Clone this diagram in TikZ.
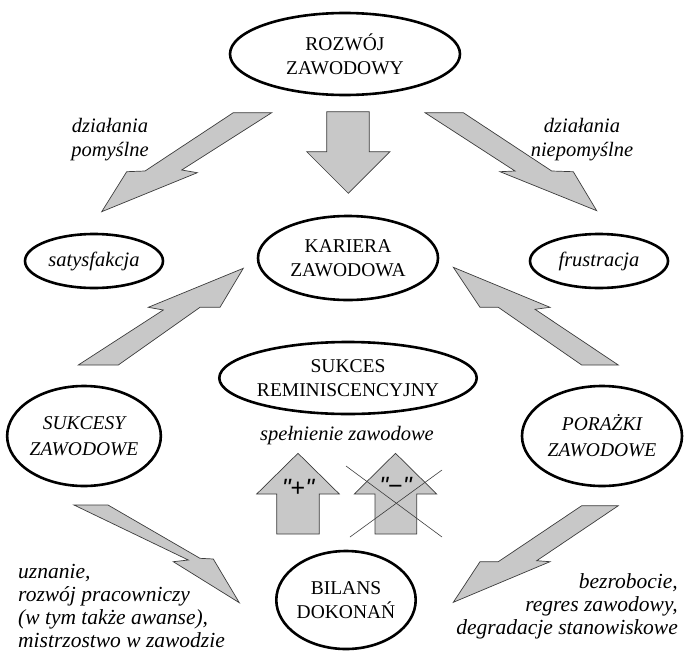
\documentclass[tikz,border=0pt]{standalone}
\usepackage{fontspec}
\setmainfont{Liberation Serif}
\newfontfamily\arialfont{Liberation Sans}
\usetikzlibrary{shapes.geometric}
\definecolor{arrowgray}{RGB}{200,200,200}
\definecolor{edgegray}{RGB}{60,60,60}
\begin{document}
\begin{tikzpicture}[x=1pt,y=-1pt,
  oval/.style={ellipse, draw, line width=2.6pt, inner sep=0pt, align=center, font=\fontsize{19.5}{24}\selectfont},
  ovalit/.style={oval, font=\fontsize{19.5}{26}\selectfont\itshape},
  ovalsm/.style={oval, font=\fontsize{20.5}{24}\selectfont\itshape},
  blockarrow/.style={fill=arrowgray, draw=edgegray, line width=0.7pt, line join=miter},
  lab/.style={font=\fontsize{20.5}{24}\selectfont\itshape, inner sep=0pt},
  labbig/.style={font=\fontsize{21.5}{23}\selectfont\itshape, inner sep=0pt},
  signtxt/.style={font=\arialfont\fontsize{25}{25}\selectfont, inner sep=0pt},
  crossline/.style={draw=edgegray, line width=0.6pt}]
\useasboundingbox (0,0) rectangle (685,653);
% ellipses
\node[oval, minimum width=230pt, minimum height=82pt] (rozwoj) at (345,54) {ROZWÓJ\\ZAWODOWY};
\node[oval, minimum width=180pt, minimum height=84pt] (kariera) at (348,258) {KARIERA\\ZAWODOWA};
\node[ovalsm, minimum width=138pt, minimum height=54pt] (satys) at (94,261) {satysfakcja};
\node[ovalsm, minimum width=138pt, minimum height=54pt] (frustr) at (599,261) {frustracja};
\node[oval, minimum width=236pt, minimum height=72pt] (sukces) at (348,378) {SUKCES\\REMINISCENCYJNY};
\node[ovalit, minimum width=152pt, minimum height=100pt] (sukcesy) at (84,436) {SUKCESY\\ZAWODOWE};
\node[ovalit, minimum width=160pt, minimum height=100pt] (porazki) at (602,436) {PORAŻKI\\ZAWODOWE};
\node[oval, minimum width=134pt, minimum height=98pt] (bilans) at (346,600) {BILANS\\DOKONAŃ};
% labels
\node[lab, align=center] (dzp) at (110,140) {działania\\pomyślne};
\node[lab, align=center] (dzn) at (582,140) {działania\\niepomyślne};
\node[lab] (spel) at (347,436) {spełnienie zawodowe};
\node[labbig, align=left, anchor=north west] (uzn) at (18,564) {uznanie,\\rozwój pracowniczy\\(w tym także awanse),\\mistrzostwo w zawodzie};
\node[labbig, align=right, anchor=north east] (bez) at (678,573) {bezrobocie,\\regres zawodowy,\\degradacje stanowiskowe};
% block arrows
% upper left
\draw[blockarrow] (101.7,211.7) -- (126.7,171.7) -- (145,171) -- (233.3,112.7) -- (271.7,112.7) -- (181.7,170) -- (197.3,172.7) -- cycle;
% upper right
\draw[blockarrow] (596.7,210.7) -- (573.3,171.7) -- (551.7,171) -- (463.3,112.7) -- (425,112.7) -- (515,171) -- (500,171.7) -- cycle;
% middle down
\draw[blockarrow] (326.7,111.7) -- (369.3,111.7) -- (369.3,151.7) -- (390,151.7) -- (348.3,193.3) -- (306.7,151.7) -- (326.7,151.7) -- cycle;
% lower left up
\draw[blockarrow] (243.3,268.3) -- (220,307.3) -- (200,307.3) -- (118.3,365) -- (78.3,365) -- (163.3,310) -- (148.3,307.3) -- cycle;
% lower right up
\draw[blockarrow] (453.3,267.3) -- (480,307.3) -- (498.3,307.3) -- (581.7,365) -- (618.3,365) -- (535,309.3) -- (550,307.3) -- cycle;
% bottom left down
\draw[blockarrow] (74,505) -- (108,505) -- (200,558.3) -- (213.3,559) -- (239.3,602.7) -- (173.3,561.7) -- (188.3,560) -- cycle;
% bottom right down
\draw[blockarrow] (581.7,505.7) -- (498.3,561.7) -- (480,561.7) -- (453.3,602.3) -- (550,561.7) -- (536.7,560.7) -- (618.3,505.7) -- cycle;
% plus arrow
\draw[blockarrow] (276.7,534) -- (276.7,494) -- (256.7,494) -- (298,453.3) -- (339.3,494) -- (319.3,494) -- (319.3,534) -- cycle;
\node[signtxt] (plus) at (298,488) {{\itshape "}+{\itshape "}};
% minus arrow
\draw[blockarrow] (375,534) -- (375,494) -- (354.3,494) -- (395.5,453.3) -- (436.7,494) -- (416.7,494) -- (416.7,534) -- cycle;
\node[signtxt] (minus) at (395.5,486) {{\itshape "}−{\itshape "}};
\coordinate (c1) at (346,466);
\coordinate (c2) at (442,537);
\coordinate (c3) at (442,470);
\coordinate (c4) at (350,537);
\draw[crossline] (c1) -- (c2);
\draw[crossline] (c3) -- (c4);
\end{tikzpicture}
\end{document}
